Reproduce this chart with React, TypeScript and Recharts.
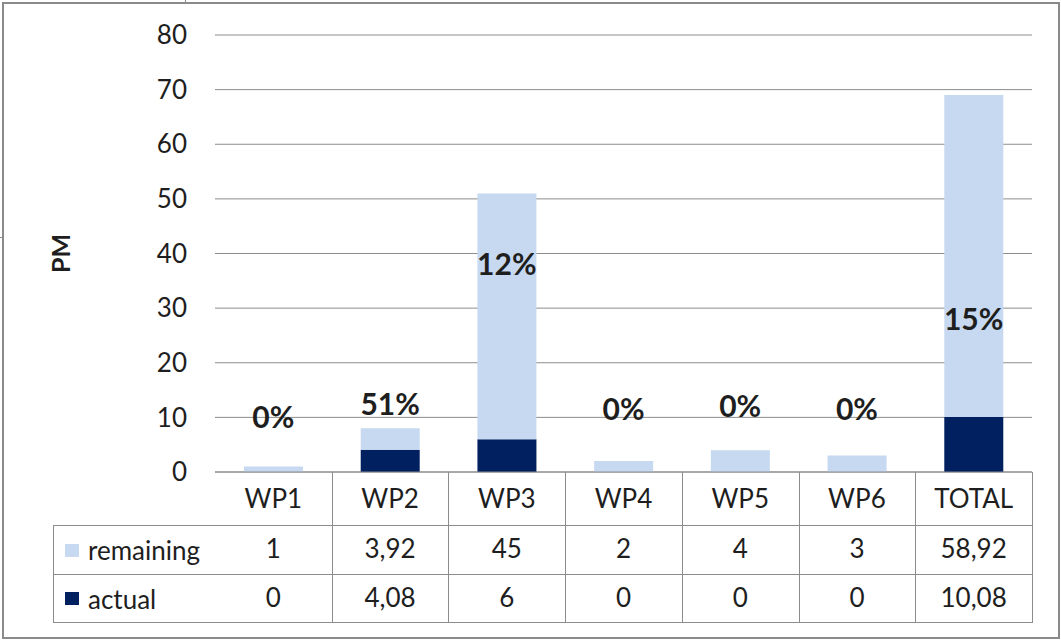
import React from 'react';
import { ComposedChart, Bar, Line, XAxis, YAxis, CartesianGrid, LabelList } from 'recharts';

const categories = ['WP1', 'WP2', 'WP3', 'WP4', 'WP5', 'WP6', 'TOTAL'];
const remaining = [1, 3.92, 45, 2, 4, 3, 58.92];
const actual = [0, 4.08, 6, 0, 0, 0, 10.08];
const pctLabels = ['0%', '51%', '12%', '0%', '0%', '0%', '15%'];
// where Excel left the percentage labels, in PM units
const pctLabelPos = [10.3, 12.7, 38.3, 11.7, 12.3, 11.7, 28.2];
const yTicks = [0, 10, 20, 30, 40, 50, 60, 70, 80];

const data = categories.map((name, i) => ({
  name,
  remaining: remaining[i],
  actual: actual[i],
  pct: pctLabels[i],
  labelPos: pctLabelPos[i],
}));

const W = 1061;
const H = 640;
const PLOT_LEFT = 215;
const PLOT_RIGHT = 1032;
const BAND = (PLOT_RIGHT - PLOT_LEFT) / categories.length;
const GRID = '#8c8c8c';
const TEXT = '#1e1e1e';
const FONT = 'Lato, "Open Sans", sans-serif';
const LIGHT = '#c6d9f1';
const DARK = '#002060';

const fmt = (v: number) => String(v).replace('.', ',');

const CategoryTick = (props: any) => {
  const { x, y, payload } = props;
  const i = payload.index;
  const right = Math.round(x + BAND / 2) + 0.5;
  const common = { x, textAnchor: 'middle' as const, dominantBaseline: 'central' as const, fill: TEXT, fontSize: 26, fontFamily: FONT };
  return (
    <g>
      <line x1={right} x2={right} y1={y} y2={y + 150} stroke={GRID} strokeWidth={1} />
      <text {...common} y={y + 26}>{payload.value}</text>
      <text {...common} y={y + 76}>{fmt(remaining[i])}</text>
      <text {...common} y={y + 125}>{fmt(actual[i])}</text>
    </g>
  );
};

const renderPct = (props: any) => {
  const { x, y, value } = props;
  return (
    <text x={x} y={y} textAnchor="middle" dominantBaseline="central" fill={TEXT}
      fontSize={30} fontWeight={700} fontFamily={FONT}>
      {value}
    </text>
  );
};

const PmLabel = (props: any) => {
  const vb = props.viewBox || { y: 35, height: 437 };
  const cy = vb.y + vb.height / 2;
  return (
    <text x={60} y={cy} transform={`rotate(-90 60 ${cy})`} textAnchor="middle" dominantBaseline="central"
      fill={TEXT} fontSize={25} fontWeight={700} fontFamily={FONT}>
      PM
    </text>
  );
};

const legendRow = (label: string, color: string, top: number, height: number) => (
  <div style={{ position: 'absolute', left: 0, top, height, display: 'flex', alignItems: 'center' }}>
    <div style={{ width: 14, height: 13, background: color, marginLeft: 11, marginRight: 9 }} />
    <span style={{ fontSize: 26, fontFamily: FONT, color: TEXT }}>{label}</span>
  </div>
);

export default function App() {
  return (
    <div style={{ position: 'absolute', left: 0, top: 0, width: W, height: H, background: '#fff' }}>
      <ComposedChart width={W} height={H} data={data} margin={{ top: 35, right: W - PLOT_RIGHT, bottom: 115, left: 0 }}>
        <CartesianGrid horizontal vertical={false} stroke={GRID} />
        <YAxis
          width={PLOT_LEFT}
          domain={[0, 80]}
          ticks={yTicks}
          axisLine={false}
          tickLine={false}
          tickSize={0}
          tickMargin={28}
          tick={{ fill: TEXT, fontSize: 26, fontFamily: FONT }}
          label={<PmLabel />}
        />
        <XAxis
          dataKey="name"
          height={53}
          axisLine={{ stroke: GRID }}
          tickLine={false}
          tickSize={0}
          tickMargin={0}
          interval={0}
          tick={<CategoryTick />}
        />
        <Bar dataKey="actual" stackId="pm" fill={DARK} barSize={59} isAnimationActive={false} />
        <Bar dataKey="remaining" stackId="pm" fill={LIGHT} barSize={59} isAnimationActive={false} />
        <Line dataKey="labelPos" stroke="none" dot={false} activeDot={false} legendType="none" isAnimationActive={false}>
          <LabelList dataKey="pct" content={renderPct} />
        </Line>
      </ComposedChart>

      {/* data table rows: legend column and horizontal rules */}
      <div style={{
        position: 'absolute', left: 53, top: 525, width: PLOT_RIGHT - 53 + 1, height: 98,
        boxSizing: 'border-box', borderTop: `1px solid ${GRID}`, borderLeft: `1px solid ${GRID}`, borderBottom: `1px solid ${GRID}`,
      }}>
        <div style={{ position: 'absolute', left: 0, right: 0, top: 48, borderTop: `1px solid ${GRID}` }} />
        {legendRow('remaining', LIGHT, 0, 48)}
        {legendRow('actual', DARK, 49, 47)}
      </div>

      {/* outer frame */}
      <div style={{ position: 'absolute', left: 2, top: 2, width: 1058, height: 637, boxSizing: 'border-box', border: '2px solid #8a8a8a' }} />
      <div style={{ position: 'absolute', left: 185, top: 0, width: 1, height: 3, background: '#8a8a8a' }} />
      <div style={{ position: 'absolute', left: 0, top: 237, width: 3, height: 1, background: '#8a8a8a' }} />
    </div>
  );
}
